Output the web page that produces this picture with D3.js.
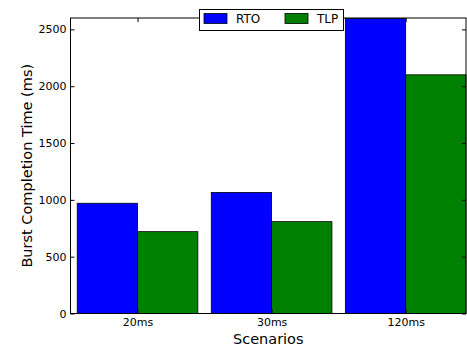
<!DOCTYPE html>
<html><head><meta charset="utf-8">
<script src="https://cdn.jsdelivr.net/npm/d3@7"></script>
<style>body{margin:0;background:#fff}svg{display:block}text{font-family:"DejaVu Sans",sans-serif}</style>
</head><body>
<script>
const categories = ["20ms", "30ms", "120ms"];
const seriesNames = ["RTO", "TLP"];
const rtoValues = [970, 1065, 2595];
const tlpValues = [720, 808, 2100];
const yTicks = [0, 500, 1000, 1500, 2000, 2500];
const colors = ["#0000ff", "#008000"];

const W = 467, H = 348;
const m = {left: 70.5, right: 1, top: 18, bottom: 34.5};
const svg = d3.select("body").append("svg").attr("width", W).attr("height", H);

const x = d3.scaleLinear().domain([-0.05, 2.9]).range([m.left, W - m.right]);
const y = d3.scaleLinear().domain([0, 2600]).range([H - m.bottom, m.top]);
const barW = 0.45;
const series = [rtoValues, tlpValues];

const g = svg.append("g");
series.forEach((vals, s) => {
  g.selectAll(null).data(vals).enter().append("rect")
    .attr("x", (d, i) => x(i + s * barW))
    .attr("width", x(barW) - x(0))
    .attr("y", d => y(d))
    .attr("height", d => y(0) - y(d))
    .attr("fill", colors[s])
    .attr("stroke", "#000").attr("stroke-width", 0.8);
});

// axes
const yAxisL = d3.axisLeft(y).tickValues(yTicks).tickFormat(d3.format("d")).tickSizeInner(-4).tickSizeOuter(0).tickPadding(4);
const yAxisR = d3.axisRight(y).tickValues(yTicks).tickSizeInner(-4).tickSizeOuter(0).tickFormat("");
const xAxisB = d3.axisBottom(x).tickValues(categories.map((c, i) => i + barW)).tickFormat((d, i) => categories[i]).tickSizeInner(-4).tickSizeOuter(0).tickPadding(5);
const xAxisT = d3.axisTop(x).tickValues(categories.map((c, i) => i + barW)).tickSizeInner(-4).tickSizeOuter(0).tickFormat("");

function style(sel) {
  sel.selectAll("path").remove();
  sel.selectAll("line").attr("stroke", "#000");
  sel.selectAll("text").attr("font-size", 11).attr("fill", "#000").style("font-family", "DejaVu Sans");
}
svg.append("g").attr("transform", `translate(${m.left},0)`).call(yAxisL).call(style);
svg.append("g").attr("transform", `translate(${W - m.right},0)`).call(yAxisR).call(style);
svg.append("g").attr("transform", `translate(0,${H - m.bottom})`).call(xAxisB).call(style);
svg.append("g").attr("transform", `translate(0,${m.top})`).call(xAxisT).call(style);

// spines
svg.append("rect").attr("x", m.left).attr("y", m.top)
  .attr("width", W - m.right - m.left).attr("height", H - m.bottom - m.top)
  .attr("fill", "none").attr("stroke", "#000").attr("stroke-width", 1);

// labels
svg.append("text").attr("x", (m.left + W - m.right) / 2).attr("y", 344)
  .attr("text-anchor", "middle").attr("font-size", 14.5).text("Scenarios");
svg.append("text").attr("transform", `translate(32,${(m.top + H - m.bottom) / 2}) rotate(-90)`)
  .attr("text-anchor", "middle").attr("font-size", 14.5).text("Burst Completion Time (ms)");

// legend
const lg = svg.append("g");
lg.append("rect").attr("x", 199.5).attr("y", 9.5).attr("width", 144).attr("height", 21)
  .attr("fill", "#fff").attr("stroke", "#000").attr("stroke-width", 1);
const legX = [204, 285];
seriesNames.forEach((n, s) => {
  lg.append("rect").attr("x", legX[s]).attr("y", 13.5).attr("width", 23).attr("height", 10)
    .attr("fill", colors[s]).attr("stroke", "#000").attr("stroke-width", 0.8);
  lg.append("text").attr("x", legX[s] + 32).attr("y", 23).attr("font-size", 12).text(n);
});
</script>
</body></html>
